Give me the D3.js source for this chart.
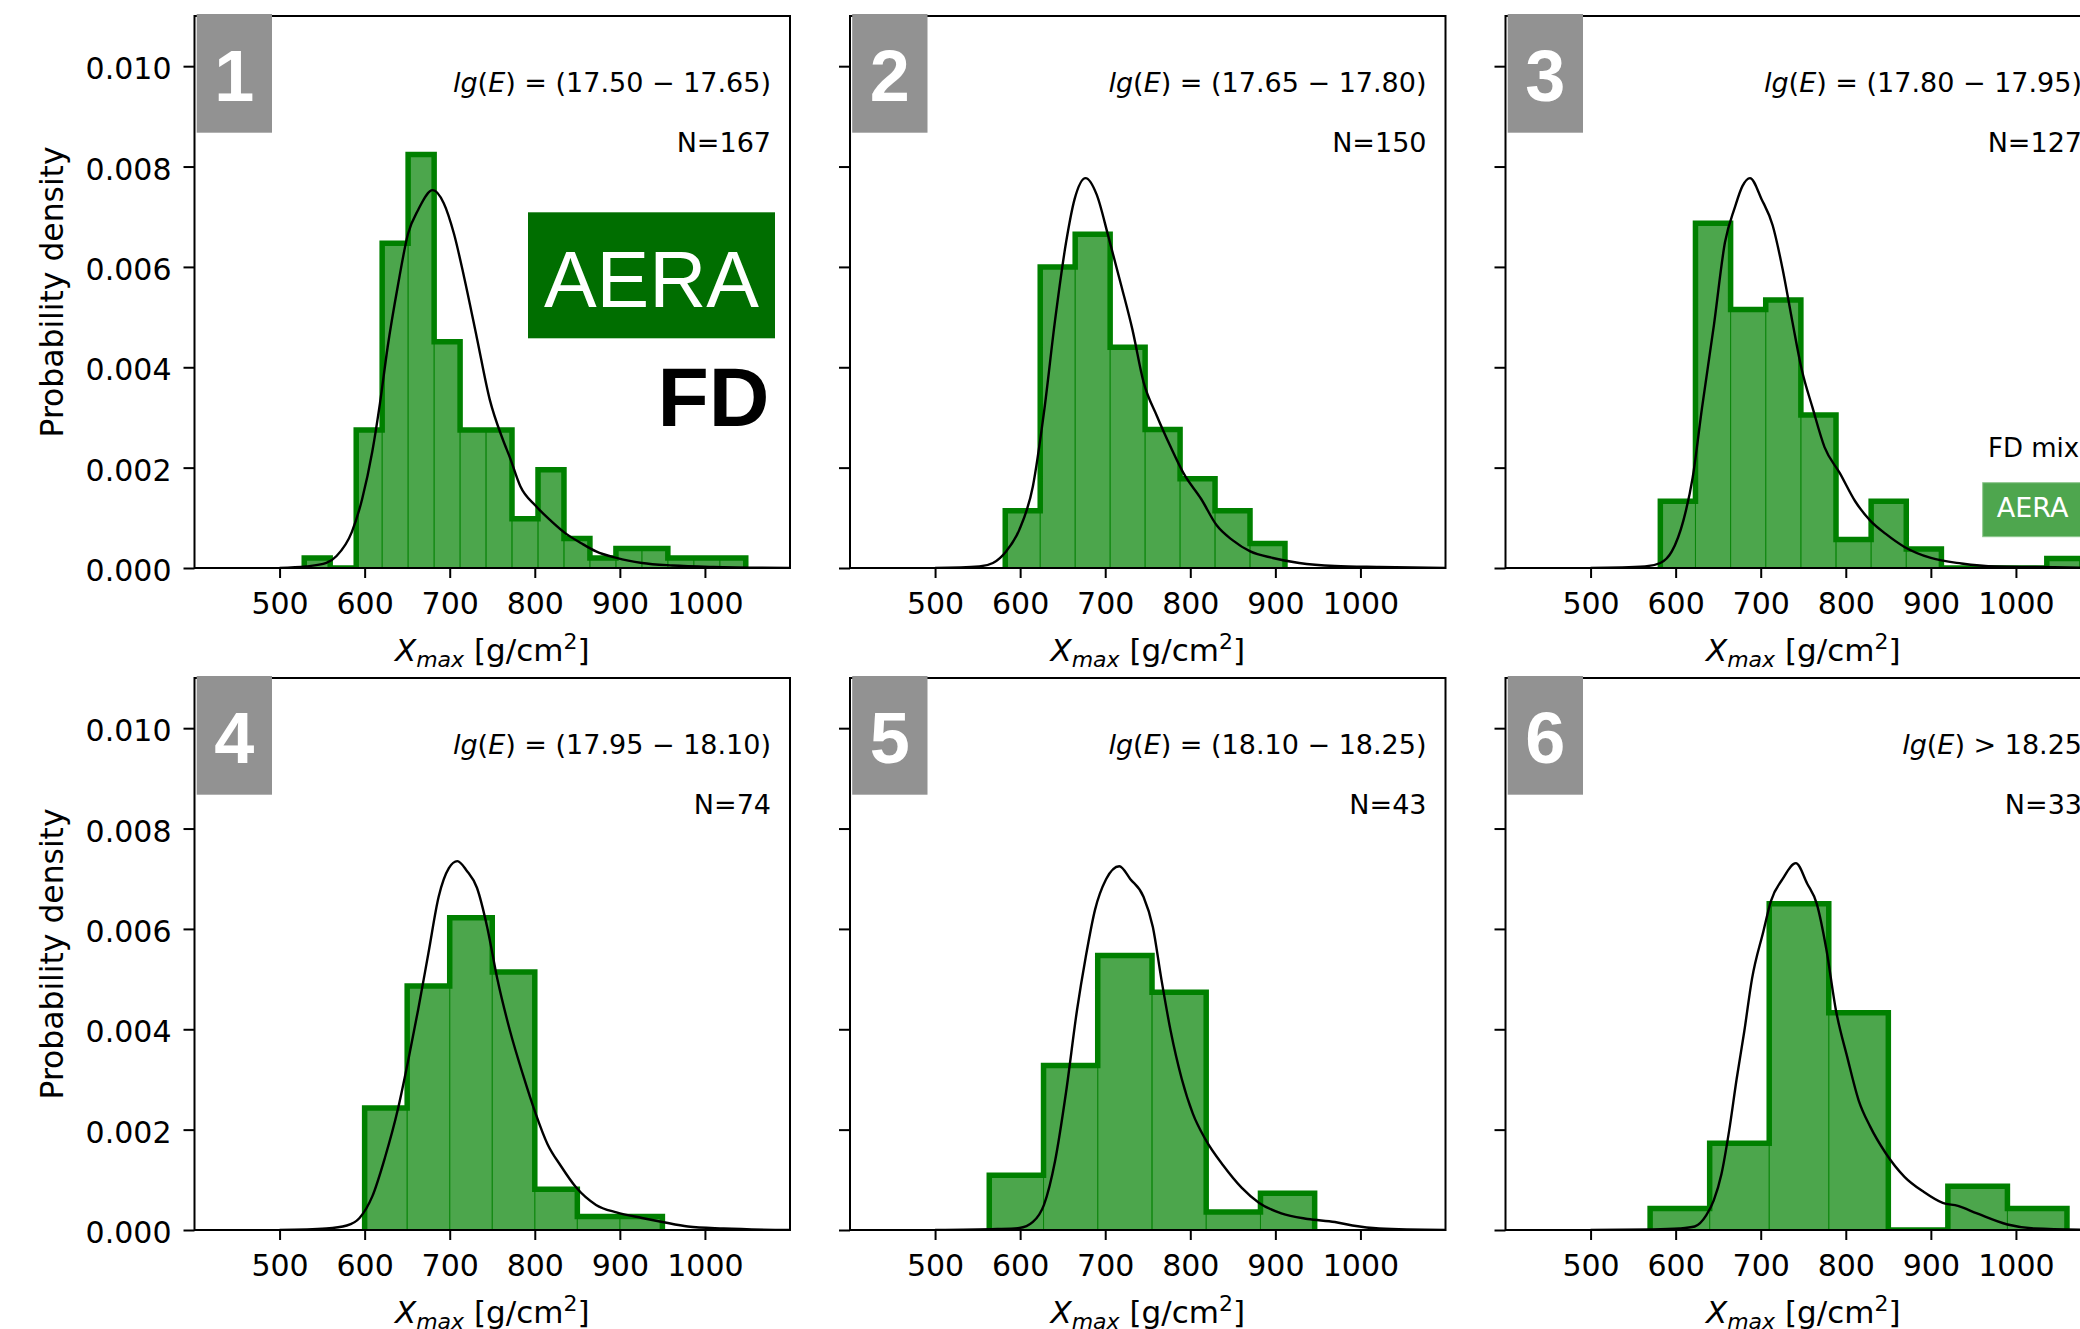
<!DOCTYPE html>
<html>
<head>
<meta charset="utf-8">
<script src="https://cdn.jsdelivr.net/npm/d3@7"></script>
<style>
  html, body { margin: 0; padding: 0; background: #fff; }
  svg { display: block; }
</style>
</head>
<body>
<div id="chart"></div>
<script>
// panel labels and energy bins
const panelNumbers = ["1", "2", "3", "4", "5", "6"];
const energyRelation = ["=", "=", "=", "=", "=", ">"];
const energyRange = ["(17.50 − 17.65)", "(17.65 − 17.80)", "(17.80 − 17.95)",
                     "(17.95 − 18.10)", "(18.10 − 18.25)", "18.25"];
const eventCounts = [167, 150, 127, 74, 43, 33];

const xTicks = [500, 600, 700, 800, 900, 1000];
const yTicks = [0, 0.002, 0.004, 0.006, 0.008, 0.010];

// histogram bin edges + density per bin
const edges1 = [529, 559.5, 590.1, 620.6, 651.1, 681.7, 712.2, 742.7, 773.2, 803.8, 834.3, 864.8, 895.4, 925.9, 956.4, 986.9, 1017.5, 1048];
const dens1 = [0.0002, 0, 0.00275, 0.00647, 0.00824, 0.00451, 0.00275, 0.00275, 0.00098, 0.00196, 0.00059, 0.0002, 0.00039, 0.00039, 0.0002, 0.0002, 0.0002];
const edges2 = [582.5, 623.6, 664.7, 705.8, 746.9, 788, 829.1, 870.2, 911.3];
const dens2 = [0.00114, 0.006, 0.00665, 0.0044, 0.00276, 0.00178, 0.00114, 0.00049];
const edges3 = [582, 623.3, 664.6, 705.9, 747.2, 788.5, 829.8, 871.1, 912.4, 953.7, 995, 1036.3, 1077.6];
const dens3 = [0.00133, 0.00687, 0.00515, 0.00534, 0.00305, 0.00057, 0.00133, 0.00038, 0, 0, 0, 0.00019];
const edges4 = [600, 650, 700, 750, 800, 850, 900, 950];
const dens4 = [0.00243, 0.00486, 0.00622, 0.00514, 0.00081, 0.00027, 0.00027];
const edges5 = [563.7, 627.5, 691.2, 755, 818.7, 882.5, 946.2];
const dens5 = [0.00109, 0.00328, 0.00547, 0.00474, 0.00036, 0.00073];
const edges6 = [570, 640, 710, 780, 850, 920, 990, 1060];
const dens6 = [0.00043, 0.00173, 0.0065, 0.00433, 0, 0.00087, 0.00043];

// FD mix density curves
const kdeX1 = [500, 531, 555, 567, 585, 597, 609, 618, 627, 639, 651, 663, 680, 693, 705, 717, 732, 747, 762, 771, 783, 801, 819, 837, 854, 872, 896, 926, 962, 1010, 1100];
const kdeY1 = [0, 0.00003, 0.0001, 0.00024, 0.00072, 0.00137, 0.00232, 0.00328, 0.0044, 0.00562, 0.00666, 0.00714, 0.00753, 0.00727, 0.00666, 0.00579, 0.00458, 0.00336, 0.00258, 0.00219, 0.00163, 0.00124, 0.00094, 0.00068, 0.0005, 0.00033, 0.0002, 0.0001, 0.00005, 0.00002, 0];
const kdeX2 = [500, 552, 568, 583.5, 599, 615, 628, 641, 654, 664, 677, 690, 703.5, 719, 732, 745, 761, 777, 792, 813, 831, 850, 870.5, 897, 928, 970, 1022, 1100];
const kdeY2 = [0, 0.00003, 0.0001, 0.00033, 0.00076, 0.00163, 0.0031, 0.00493, 0.00649, 0.00735, 0.00777, 0.00744, 0.00662, 0.00562, 0.00475, 0.00371, 0.00302, 0.00241, 0.00189, 0.00137, 0.00085, 0.00055, 0.00033, 0.0002, 0.0001, 0.00004, 0.00002, 0];
const kdeX3 = [500, 564, 582, 595.5, 609, 620, 631, 645, 658, 669.5, 678.5, 687.4, 701, 714, 725.6, 737, 748, 761, 775, 793, 811, 829, 847, 869, 900, 936, 977, 1022, 1100];
const kdeY3 = [0, 0.00003, 0.0001, 0.00033, 0.00094, 0.0018, 0.00319, 0.00484, 0.00649, 0.00718, 0.00761, 0.00777, 0.00735, 0.00683, 0.00597, 0.00493, 0.00397, 0.00319, 0.00241, 0.00189, 0.00133, 0.00094, 0.00068, 0.00042, 0.0002, 0.00009, 0.00003, 0.00002, 0];
const kdeX4 = [500, 555, 579, 594, 609, 624, 639, 651, 663, 675, 687, 699, 709, 720, 732, 744, 756, 771, 786, 801, 815, 830.5, 848.5, 872, 896, 926, 950, 980, 1022, 1100];
const kdeY4 = [0, 0.00003, 0.00009, 0.00024, 0.00067, 0.00145, 0.0024, 0.00336, 0.0044, 0.00552, 0.00664, 0.00721, 0.00735, 0.00716, 0.00682, 0.00604, 0.005, 0.00396, 0.0031, 0.00232, 0.00171, 0.00128, 0.00085, 0.0005, 0.00035, 0.00024, 0.00016, 0.00007, 0.00003, 0];
const kdeX5 = [500, 573, 599, 615, 628, 641, 654, 667, 677, 688, 701, 716.6, 729.6, 745, 756, 766, 777, 790, 803, 818, 839, 860, 881, 907, 938, 970, 990.6, 1022, 1100];
const kdeY5 = [0, 0.00002, 0.00004, 0.00016, 0.0005, 0.00137, 0.00275, 0.0044, 0.00543, 0.00638, 0.00699, 0.00725, 0.00699, 0.00664, 0.00604, 0.005, 0.00396, 0.00301, 0.00232, 0.0018, 0.00128, 0.00085, 0.00054, 0.00033, 0.00022, 0.00016, 0.00009, 0.00003, 0];
const kdeX6 = [500, 573, 604.5, 622.4, 635.9, 644.8, 653.8, 662.8, 671.7, 680.7, 689.7, 703.1, 712.1, 725.6, 741.3, 754.7, 765.9, 777.1, 788.3, 801.8, 815.2, 828.7, 846.6, 869, 891.5, 913.9, 931.8, 954.3, 990.1, 1021.5, 1100];
const kdeY6 = [0, 0.00001, 0.00003, 0.00007, 0.00029, 0.00059, 0.00111, 0.00197, 0.00301, 0.00396, 0.005, 0.00595, 0.00656, 0.00699, 0.00731, 0.0069, 0.0065, 0.0056, 0.00439, 0.00344, 0.00258, 0.00206, 0.00154, 0.00106, 0.00076, 0.00054, 0.00048, 0.00033, 0.00011, 0.00003, 0];

const allEdges = [edges1, edges2, edges3, edges4, edges5, edges6];
const allDens = [dens1, dens2, dens3, dens4, dens5, dens6];
const allKdeX = [kdeX1, kdeX2, kdeX3, kdeX4, kdeX5, kdeX6];
const allKdeY = [kdeY1, kdeY2, kdeY3, kdeY4, kdeY5, kdeY6];

// layout
const width = 2080, height = 1329;
const colLeft = [194.5, 850, 1505.5];
const rowTop = [16, 678];
const plotW = 595.5, plotH = 552;
const font = "DejaVu Sans";

const svg = d3.select("#chart").append("svg")
    .attr("width", width)
    .attr("height", height)
    .attr("font-family", font);

const x = d3.scaleLinear().domain([400, 1100]).range([0, plotW]);
const y = d3.scaleLinear().domain([0, 0.011]).range([plotH, 0]);

const line = d3.line()
    .x(d => x(d[0]))
    .y(d => y(d[1]))
    .curve(d3.curveMonotoneX);

panelNumbers.forEach((num, i) => {
    const col = i % 3, row = Math.floor(i / 3);
    const g = svg.append("g").attr("transform", `translate(${colLeft[col]},${rowTop[row]})`);

    const clipId = "clip" + i;
    g.append("clipPath").attr("id", clipId)
        .append("rect").attr("width", plotW).attr("height", plotH);

    const data = g.append("g").attr("clip-path", `url(#${clipId})`);
    const edges = allEdges[i], dens = allDens[i];
    const bins = dens.map((d, k) => ({ x0: edges[k], x1: edges[k + 1], d }));

    // filled bars (alpha 0.7 face + edge)
    data.selectAll("rect.bar")
        .data(bins.filter(b => b.d > 0))
        .join("rect")
        .attr("x", b => x(b.x0))
        .attr("y", b => y(b.d))
        .attr("width", b => x(b.x1) - x(b.x0))
        .attr("height", b => y(0) - y(b.d))
        .attr("fill", "#008000")
        .attr("fill-opacity", 0.7)
        .attr("stroke", "#008000")
        .attr("stroke-opacity", 0.7)
        .attr("stroke-width", 1);

    // step outline
    const steps = [[edges[0], 0]];
    bins.forEach(b => { steps.push([b.x0, b.d]); steps.push([b.x1, b.d]); });
    steps.push([edges[edges.length - 1], 0]);
    data.append("path")
        .attr("d", d3.line().x(d => x(d[0])).y(d => y(d[1]))(steps))
        .attr("fill", "none")
        .attr("stroke", "#008000")
        .attr("stroke-width", 5.5);

    // FD mix curve
    const kde = allKdeX[i].map((v, k) => [v, allKdeY[i][k]]);
    data.append("path")
        .attr("d", line(kde))
        .attr("fill", "none")
        .attr("stroke", "#000")
        .attr("stroke-width", 2.4);

    // axes
    const yAxis = d3.axisLeft(y).tickValues(yTicks).tickSize(11).tickPadding(12)
        .tickFormat(col === 0 ? d3.format(".3f") : () => "");
    g.append("g").call(yAxis)
        .call(a => a.select(".domain").remove())
        .call(a => a.selectAll("line").attr("stroke-width", 2))
        .call(a => a.selectAll("text").attr("font-size", 30).attr("font-family", font)
            .attr("dy", "0.42em").attr("fill", "#000"));

    const xAxis = d3.axisBottom(x).tickValues(xTicks).tickSize(10).tickPadding(14.5)
        .tickFormat(d3.format("d"));
    g.append("g").attr("transform", `translate(0,${plotH})`).call(xAxis)
        .call(a => a.select(".domain").remove())
        .call(a => a.selectAll("line").attr("stroke-width", 2))
        .call(a => a.selectAll("text").attr("font-size", 30).attr("font-family", font)
            .attr("fill", "#000"));

    g.append("rect")
        .attr("width", plotW).attr("height", plotH)
        .attr("fill", "none").attr("stroke", "#000").attr("stroke-width", 2);

    // number tag
    g.append("rect")
        .attr("x", 2.2).attr("y", -2)
        .attr("width", 75.3).attr("height", 118.7)
        .attr("fill", "#929292");
    g.append("text")
        .attr("x", 2.2 + 75.3 / 2).attr("y", 85)
        .attr("text-anchor", "middle")
        .attr("font-family", "Liberation Sans, Arial, sans-serif")
        .attr("font-weight", "bold")
        .attr("font-size", 72)
        .attr("fill", "#fff")
        .text(num);

    // energy range + N
    const et = g.append("text")
        .attr("x", plotW - 19).attr("y", 75.5)
        .attr("text-anchor", "end")
        .attr("font-size", 27);
    et.append("tspan").attr("font-style", "italic").text("lg");
    et.append("tspan").text("(");
    et.append("tspan").attr("font-style", "italic").text("E");
    et.append("tspan").text(`) ${energyRelation[i]} ${energyRange[i]}`);

    g.append("text")
        .attr("x", plotW - 19).attr("y", 136)
        .attr("text-anchor", "end")
        .attr("font-size", 27)
        .text(`N=${eventCounts[i]}`);

    // axis labels
    const xl = g.append("text")
        .attr("x", plotW / 2).attr("y", plotH + 92.5)
        .attr("text-anchor", "middle")
        .attr("font-size", 31);
    xl.append("tspan").attr("font-style", "italic").text("X");
    xl.append("tspan").attr("font-style", "italic").attr("font-size", 22).attr("dy", 6).text("max");
    xl.append("tspan").attr("dy", -6).text(" [g/cm");
    xl.append("tspan").attr("font-size", 22).attr("dy", -12).text("2");
    xl.append("tspan").attr("dy", 12).text("]");

    if (col === 0) {
        g.append("text")
            .attr("transform", `translate(${63 - colLeft[0]},${plotH / 2}) rotate(-90)`)
            .attr("text-anchor", "middle")
            .attr("font-size", 31.4)
            .text("Probability density");
    }

    // panel 1 tags
    if (i === 0) {
        g.append("rect")
            .attr("x", 333.5).attr("y", 196.3)
            .attr("width", 247).attr("height", 126)
            .attr("fill", "#006e00");
        g.append("text")
            .attr("x", 333.5 + 247 / 2).attr("y", 291)
            .attr("text-anchor", "middle")
            .attr("font-family", "Liberation Sans, Arial, sans-serif")
            .attr("font-size", 79)
            .attr("fill", "#fff")
            .text("AERA");
        g.append("text")
            .attr("x", 575).attr("y", 410)
            .attr("text-anchor", "end")
            .attr("font-family", "Liberation Sans, Arial, sans-serif")
            .attr("font-weight", "bold")
            .attr("font-size", 84)
            .attr("fill", "#000")
            .text("FD");
    }

    // legend in panel 3
    if (i === 2) {
        g.append("text")
            .attr("x", 482.5).attr("y", 441)
            .attr("font-size", 26)
            .text("FD mix");
        g.append("rect")
            .attr("x", 477.2).attr("y", 466.7)
            .attr("width", 140).attr("height", 54)
            .attr("fill", "#4ea64e")
            .attr("stroke", "#8cc58c")
            .attr("stroke-width", 1);
        g.append("text")
            .attr("x", 491.2).attr("y", 501.3)
            .attr("font-size", 27)
            .attr("fill", "#fff")
            .text("AERA");
    }
});
</script>
</body>
</html>
